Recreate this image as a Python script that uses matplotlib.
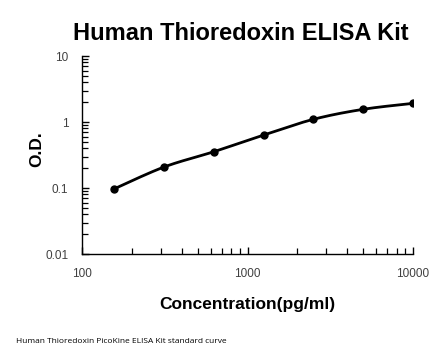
import numpy as np
import matplotlib.pyplot as plt
from matplotlib.ticker import LogLocator, FixedLocator, NullFormatter

# standard curve data
conc = [156.25, 312.5, 625, 1250, 2500, 5000, 10000]  # pg/ml
od = [0.097, 0.208, 0.355, 0.635, 1.10, 1.56, 1.92]

title = "Human Thioredoxin ELISA Kit"
xlab = "Concentration(pg/ml)"
ylab = "O.D."
note = "Human Thioredoxin PicoKine ELISA Kit standard curve"


def smooth(x, y, n=30):
	# catmull-rom style smoothing in log-log space (like excel smoothed line)
	lx = np.log10(x)
	ly = np.log10(y)
	px, py = [], []
	k = len(lx)
	for i in range(k - 1):
		x0, x1 = lx[i], lx[i + 1]
		y0, y1 = ly[i], ly[i + 1]
		xa = lx[i - 1] if i > 0 else x0
		ya = ly[i - 1] if i > 0 else y0
		xb = lx[i + 2] if i + 2 < k else x1
		yb = ly[i + 2] if i + 2 < k else y1
		mx0, my0 = (x1 - xa) / 2, (y1 - ya) / 2
		mx1, my1 = (xb - x0) / 2, (yb - y0) / 2
		t = np.linspace(0, 1, n)
		h00 = 2*t**3 - 3*t**2 + 1
		h10 = t**3 - 2*t**2 + t
		h01 = -2*t**3 + 3*t**2
		h11 = t**3 - t**2
		px.extend(h00*x0 + h10*mx0 + h01*x1 + h11*mx1)
		py.extend(h00*y0 + h10*my0 + h01*y1 + h11*my1)
	return 10**np.array(px), 10**np.array(py)


plt.rcParams['font.family'] = ['Liberation Sans', 'DejaVu Sans']

fig = plt.figure(figsize=(4.46, 3.56), dpi=100)
ax = fig.add_axes([0.184, 0.2865, 0.742, 0.556])

sx, sy = smooth(conc, od)
ax.plot(sx, sy, color='black', lw=2, solid_capstyle='round')
ax.plot(conc, od, 'o', color='black', ms=5)

ax.set_xscale('log')
ax.set_yscale('log')
ax.set_xlim(100, 10000)
ax.set_ylim(0.01, 10)

ax.xaxis.set_major_locator(FixedLocator([100, 1000, 10000]))
ax.yaxis.set_major_locator(FixedLocator([0.01, 0.1, 1, 10]))
ax.xaxis.set_minor_locator(LogLocator(base=10, subs=np.arange(2, 10)))
ax.yaxis.set_minor_locator(LogLocator(base=10, subs=np.arange(2, 10)))
ax.xaxis.set_minor_formatter(NullFormatter())
ax.yaxis.set_minor_formatter(NullFormatter())
ax.set_xticklabels(['100', '1000', '10000'])
ax.set_yticklabels(['0.01', '0.1', '1', '10'])

ax.tick_params(which='major', direction='in', length=5, width=1, colors='black',
			   labelsize=8.5, labelcolor='#404040')
ax.tick_params(which='minor', direction='in', length=4, width=0.9, colors='black')
ax.tick_params(axis='x', pad=10)
ax.tick_params(axis='y', pad=10)

for s in ['top', 'right']:
	ax.spines[s].set_visible(False)
for s in ['left', 'bottom']:
	ax.spines[s].set_linewidth(1.0)

fig.text(0.54, 0.905, title, ha='center', va='center', fontsize=17, fontweight='bold')
ax.set_xlabel(xlab, fontsize=12.5, fontweight='bold', labelpad=12)
ax.set_ylabel(ylab, fontsize=12.5, fontweight='bold', labelpad=0)
ax.yaxis.set_label_coords(-0.115, 0.53)
fig.text(0.036, 0.04, note, fontsize=6, family=['Open Sans', 'DejaVu Sans'], va='center')

fig.savefig('out.png', dpi=100)
